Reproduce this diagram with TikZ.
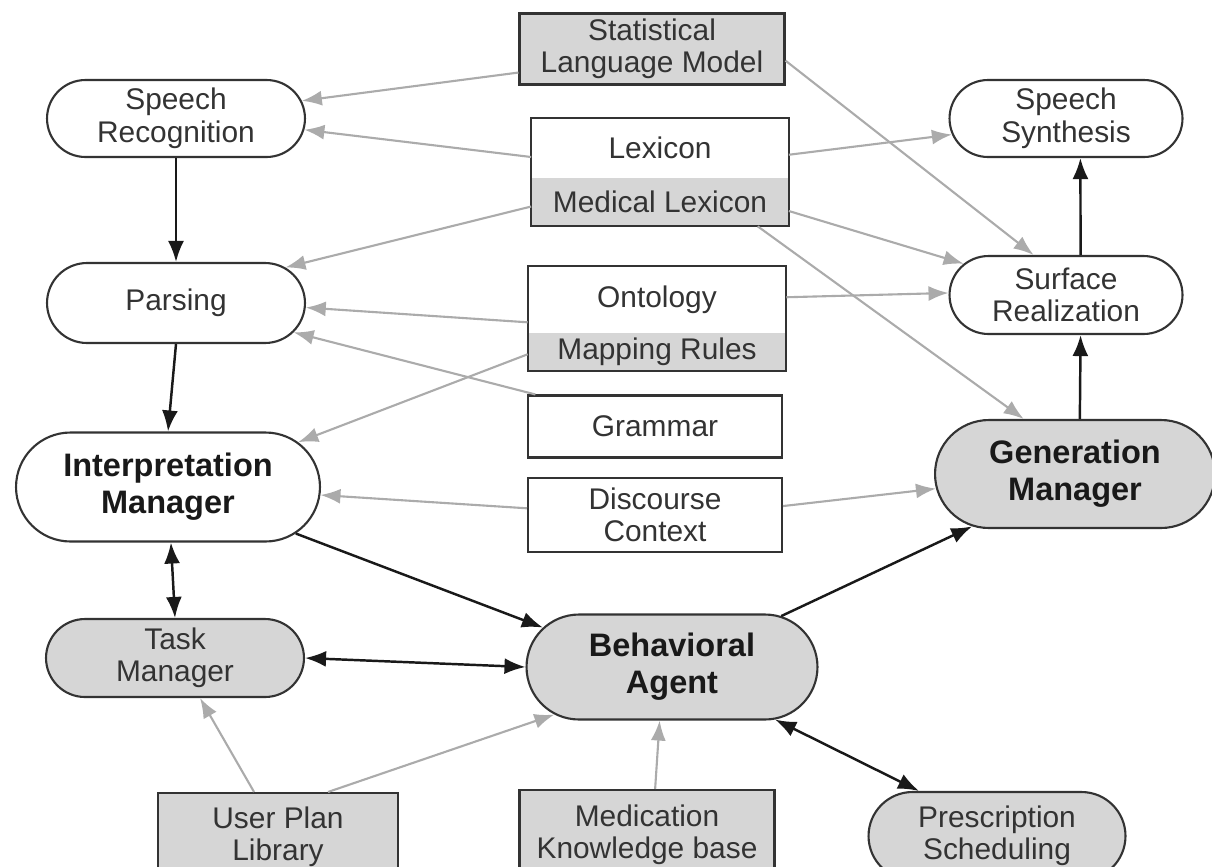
\documentclass[tikz,border=0pt]{standalone}
\usepackage{fontspec}
\setmainfont{Liberation Sans}
\usetikzlibrary{shapes, arrows.meta, positioning}

\tikzset{
  unit/.style={rounded rectangle, draw=black!80, line width=1.2pt, inner sep=0pt, align=center, text=black!80, font=\fontsize{17}{18.5}\selectfont},
  store/.style={rectangle, draw=black!80, line width=1.2pt, inner sep=0pt, align=center, text=black!80, font=\fontsize{17}{18.5}\selectfont},
  band/.style={rectangle, inner sep=0pt, align=center, text=black!80, font=\fontsize{17}{18.5}\selectfont},
  mgr/.style={font=\bfseries\fontsize{18.5}{21}\selectfont, text=black!90},
  shade/.style={fill=black!16},
  feed/.style={-{Latex[length=0.4cm,width=0.3cm]}, line width=1.2pt, draw=black!33},
  ctrl/.style={-{Latex[length=0.42cm,width=0.32cm]}, line width=1.4pt, draw=black!90},
  both/.style={{Latex[length=0.42cm,width=0.32cm]}-{Latex[length=0.42cm,width=0.32cm]}, line width=1.4pt, draw=black!90}
}

\begin{document}
\begin{tikzpicture}[x=0.02cm, y=-0.02cm]
\useasboundingbox (0,0) rectangle (1212,866);
\clip (0,0) rectangle (1212,866);

% knowledge sources
\node[store, shade, minimum width=5.3cm, minimum height=1.42cm] (slm) at (652,49) {Statistical\\Language Model};
\node[band, minimum width=5.14cm, minimum height=1.2cm] (lex) at (660,148) {Lexicon};
\node[band, shade, minimum width=5.14cm, minimum height=0.96cm] (medlex) at (660,202) {Medical Lexicon};
\draw[draw=black!80, line width=1.2pt] (lex.north west) rectangle (medlex.south east);
\node[band, minimum width=5.16cm, minimum height=1.34cm] (onto) at (657,299.5) {Ontology};
\node[band, shade, minimum width=5.16cm, minimum height=0.76cm] (maprules) at (657,352) {Mapping Rules};
\draw[draw=black!80, line width=1.2pt] (onto.north west) rectangle (maprules.south east);
\node[store, minimum width=5.08cm, minimum height=1.24cm] (gram) at (655,426.5) {Grammar};
\node[store, minimum width=5.08cm, minimum height=1.48cm] (dc) at (655,515) {Discourse\\Context};

% processing units
\node[unit, minimum width=5.16cm, minimum height=1.54cm] (sr) at (176,118.5) {Speech\\Recognition};
\node[unit, minimum width=4.66cm, minimum height=1.54cm] (ss) at (1066,118.5) {Speech\\Synthesis};
\node[unit, minimum width=5.16cm, minimum height=1.6cm] (parse) at (176,303) {Parsing};
\node[unit, minimum width=4.66cm, minimum height=1.56cm] (sreal) at (1066,295) {Surface\\Realization};
\node[unit, mgr, minimum width=6.08cm, minimum height=2.18cm] (im) at (168,487) {Interpretation\\Manager};
\node[unit, mgr, shade, minimum width=5.6cm, minimum height=2.16cm] (gm) at (1075,474) {Generation\\Manager};
\node[unit, shade, minimum width=5.16cm, minimum height=1.56cm] (tm) at (175,658) {Task\\Manager};
\node[unit, mgr, shade, minimum width=5.82cm, minimum height=2.1cm] (ba) at (672,667) {Behavioral\\Agent};
\node[store, shade, minimum width=4.8cm, minimum height=1.76cm] (upl) at (278,837) {User Plan\\Library};
\node[store, shade, minimum width=5.1cm, minimum height=1.8cm] (mkb) at (647,835) {Medication\\Knowledge base};
\node[unit, shade, minimum width=5.14cm, minimum height=1.76cm] (ps) at (997,836) {Prescription\\Scheduling};

% knowledge feeds
\foreach \u/\v in {slm.190/sr.8, slm.-5/sreal.129, lex.184/sr.-5, medlex.182/parse.18,
                   lex.-3/ss.188, medlex.-4/sreal.163, medlex.-14/gm.133,
                   onto.190/parse.-2, onto.1/sreal.179, maprules.181/im.19, gram.165/parse.-14,
                   dc.177/im.-3, dc.4/gm.186, upl.118/tm.-58, upl.42/ba.202, mkb.80/ba.257}
    \draw[feed] (\u) -- (\v);

% control flow
\foreach \u/\v in {sr.south/parse.north, parse.south/im.north, im.-20/ba.163,
                   ba.25/gm.207, gm.85/sreal.-70, sreal.70/ss.-70}
    \draw[ctrl] (\u) -- (\v);

\foreach \u/\v in {im.-87/tm.north, tm.east/ba.west, ba.-27/ps.150}
    \draw[both] (\u) -- (\v);
\end{tikzpicture}
\end{document}
